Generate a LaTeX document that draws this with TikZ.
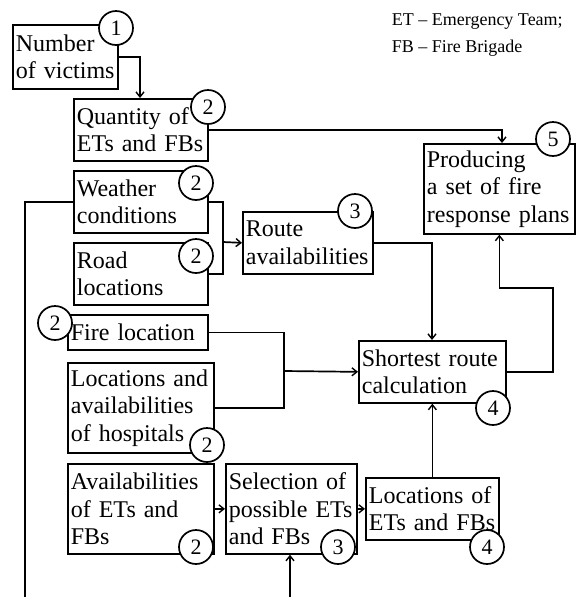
\documentclass[tikz,border=0pt]{standalone}
\usepackage{fontspec}
\setmainfont{Liberation Serif}
\usetikzlibrary{arrows.meta,calc}
\begin{document}
\begin{tikzpicture}[x=1pt,y=-1pt,
  line width=1.7pt,
  box/.style={draw, line width=1.7pt, anchor=north west, align=left, inner xsep=3pt, inner ysep=0pt,
     font=\fontsize{24}{27.5}\selectfont},
  num/.style={draw, circle, fill=white, line width=1.7pt, minimum size=34pt, inner sep=0pt,
     font=\fontsize{22}{24}\selectfont},
  arr/.style={-{Straight Barb[length=5pt,width=8pt,line width=1.4pt]}},
  conn/.style={line width=1.7pt}]
\useasboundingbox (0,0) rectangle (576,598);
% boxes
\newcommand{\bx}[6]{\node[box, minimum width=#4-#2, minimum height=#5-#3, text width=#4-#2-6pt] (#1) at (#2,#3) {#6};}
\bx{nov}{12}{24}{117}{88}{Number\\of victims}
\bx{qty}{73}{98}{207}{160}{Quantity of\\ETs and FBs}
\bx{wea}{73}{170}{207}{232}{Weather\\conditions}
\bx{road}{73}{242}{207}{304}{Road\\locations}
\bx{route}{242}{211}{372}{273}{Route\\availabilities}
\bx{prod}{423}{143}{574}{233}{Producing\\a set of fire\\response plans}
\bx{fire}{67}{314}{207}{349}{Fire location}
\bx{hosp}{67}{362}{213}{452}{Locations and\\availabilities\\of hospitals}
\bx{avail}{67}{463}{213}{553}{Availabilities\\of ETs and\\FBs}
\bx{sel}{225}{463}{356}{553}{Selection of\\possible ETs\\and FBs}
\bx{loc}{365}{477}{498}{539}{Locations of\\ETs and FBs}
\bx{short}{358}{340}{505}{402}{Shortest route\\calculation}
% legend
\node[anchor=north west, align=left, inner sep=0pt, font=\fontsize{18}{27}\selectfont] (legend) at (391,13)
  {ET -- Emergency Team;\\FB -- Fire Brigade};
% connectors
\draw[conn,arr] (nov.east) -| ($(qty.north west)+(67,0)$);
\draw[conn,arr] (qty.east) -| ($(prod.north west)+(79,0)$);
\coordinate (j1) at (223,242);
\draw[conn] (wea.east) -| (j1) |- (road.east);
\draw[conn,arr] (j1) -- (route.west);
\draw[conn,arr] (route.east) -| ($(short.north west)+(74,0)$);
\coordinate (k1) at (553,288);
\draw[conn,arr] (short.east) -| (k1) -| (prod.south);
\coordinate (j2) at (284,371);
\draw[conn] (fire.east) -| (j2);
\draw[conn] (hosp.east) -| (j2);
\draw[conn,arr] (j2) -- (short.west);
\draw[conn,arr] (avail.east) -- (sel.west);
\draw[conn,arr] (sel.east) -- (loc.west);
\draw[conn,arr] (loc.north) -- (short.south);
\coordinate (b1) at (290,597);
\draw[conn,arr] (b1) -- (b1 |- sel.south);
\coordinate (b2) at (25,597);
\draw[conn] (wea.west) -| (b2);
% circles
\node[num] (c1) at (116,28) {1};
\node[num] (c2a) at (208,107) {2};
\node[num] (c2b) at (196,183) {2};
\node[num] (c2c) at (196,256) {2};
\node[num] (c3a) at (355,211) {3};
\node[num] (c5) at (553,139) {5};
\node[num] (c2d) at (55,323) {2};
\node[num] (c2e) at (207,445) {2};
\node[num] (c2f) at (196,547) {2};
\node[num] (c3b) at (338,547) {3};
\node[num] (c4a) at (487,547) {4};
\node[num] (c4b) at (493,408) {4};
\end{tikzpicture}
\end{document}
